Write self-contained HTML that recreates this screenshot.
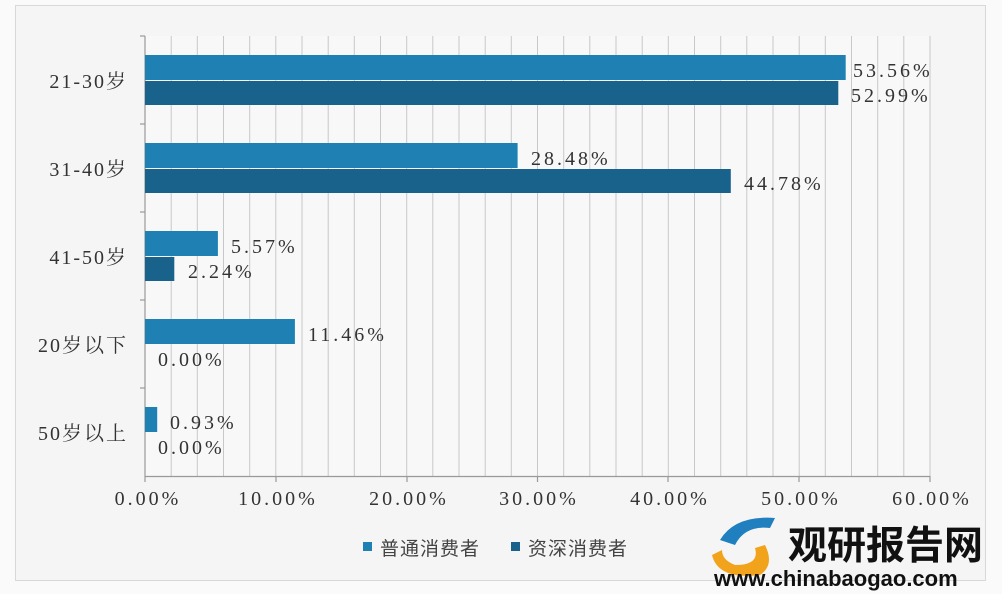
<!DOCTYPE html>
<html><head><meta charset="utf-8"><style>
body{margin:0;width:1002px;height:594px;background:#fff;overflow:hidden;font-family:"Liberation Serif","Noto Serif CJK SC",serif;}
</style></head><body>
<svg width="1002" height="594" xmlns="http://www.w3.org/2000/svg">
<rect x="0" y="0" width="1002" height="594" fill="#fafafa"/>
<rect x="15.5" y="5.5" width="970" height="575" fill="#f5f5f5" stroke="#d8d8d8"/>
<rect x="145" y="36" width="785" height="440" fill="#f8f8f8"/>
<g stroke="#c8c8c8" stroke-width="1">
<line x1="171.2" y1="36" x2="171.2" y2="476"/><line x1="197.3" y1="36" x2="197.3" y2="476"/><line x1="223.5" y1="36" x2="223.5" y2="476"/><line x1="249.7" y1="36" x2="249.7" y2="476"/><line x1="275.8" y1="36" x2="275.8" y2="476"/><line x1="302" y1="36" x2="302" y2="476"/><line x1="328.2" y1="36" x2="328.2" y2="476"/><line x1="354.3" y1="36" x2="354.3" y2="476"/><line x1="380.5" y1="36" x2="380.5" y2="476"/><line x1="406.7" y1="36" x2="406.7" y2="476"/><line x1="432.8" y1="36" x2="432.8" y2="476"/><line x1="459" y1="36" x2="459" y2="476"/><line x1="485.2" y1="36" x2="485.2" y2="476"/><line x1="511.3" y1="36" x2="511.3" y2="476"/><line x1="537.5" y1="36" x2="537.5" y2="476"/><line x1="563.7" y1="36" x2="563.7" y2="476"/><line x1="589.8" y1="36" x2="589.8" y2="476"/><line x1="616" y1="36" x2="616" y2="476"/><line x1="642.2" y1="36" x2="642.2" y2="476"/><line x1="668.3" y1="36" x2="668.3" y2="476"/><line x1="694.5" y1="36" x2="694.5" y2="476"/><line x1="720.7" y1="36" x2="720.7" y2="476"/><line x1="746.8" y1="36" x2="746.8" y2="476"/><line x1="773" y1="36" x2="773" y2="476"/><line x1="799.2" y1="36" x2="799.2" y2="476"/><line x1="825.3" y1="36" x2="825.3" y2="476"/><line x1="851.5" y1="36" x2="851.5" y2="476"/><line x1="877.7" y1="36" x2="877.7" y2="476"/><line x1="903.8" y1="36" x2="903.8" y2="476"/><line x1="930" y1="36" x2="930" y2="476"/>
</g>
<g stroke="#999" stroke-width="1.2">
<line x1="145" y1="36" x2="145" y2="476"/><line x1="145" y1="476.5" x2="930" y2="476.5"/>
<line x1="140" y1="36" x2="145" y2="36"/><line x1="140" y1="124" x2="145" y2="124"/><line x1="140" y1="212" x2="145" y2="212"/><line x1="140" y1="300" x2="145" y2="300"/><line x1="140" y1="388" x2="145" y2="388"/>
<line x1="145" y1="476" x2="145" y2="482"/><line x1="276" y1="476" x2="276" y2="482"/><line x1="407" y1="476" x2="407" y2="482"/><line x1="537.5" y1="476" x2="537.5" y2="482"/><line x1="668" y1="476" x2="668" y2="482"/><line x1="799" y1="476" x2="799" y2="482"/><line x1="930" y1="476" x2="930" y2="482"/>
</g>
<g fill="#1f80b4">
<rect x="145" y="55" width="700.7" height="25"/>
<rect x="145" y="143" width="372.6" height="25"/>
<rect x="145" y="231" width="72.9" height="25"/>
<rect x="145" y="319" width="149.9" height="25"/>
<rect x="145" y="407" width="12.2" height="25"/>
</g>
<g fill="#18628c">
<rect x="145" y="81" width="693.3" height="24"/>
<rect x="145" y="169" width="585.8" height="24"/>
<rect x="145" y="257" width="29.3" height="24"/>
</g>
<g font-size="20" fill="#333" letter-spacing="3">
<text x="853" y="77">53.56%</text><text x="851" y="102">52.99%</text>
<text x="531" y="165">28.48%</text><text x="744" y="190">44.78%</text>
<text x="231" y="253">5.57%</text><text x="188" y="278">2.24%</text>
<text x="308" y="341">11.46%</text><text x="158" y="366">0.00%</text>
<text x="170" y="429">0.93%</text><text x="158" y="454">0.00%</text>
</g>
<g font-size="20" fill="#333" text-anchor="end" letter-spacing="2" font-family="Liberation Serif,Noto Serif CJK SC,serif">
<text x="128" y="88">21-30岁</text><text x="128" y="176">31-40岁</text><text x="128" y="264">41-50岁</text><text x="128" y="352">20岁以下</text><text x="128" y="440">50岁以上</text>
</g>
<g font-size="20" fill="#333" text-anchor="middle" letter-spacing="3">
<text x="148" y="505">0.00%</text><text x="278" y="505">10.00%</text><text x="409" y="505">20.00%</text><text x="539" y="505">30.00%</text><text x="670" y="505">40.00%</text><text x="801" y="505">50.00%</text><text x="932" y="505">60.00%</text>
</g>
<rect x="363" y="542" width="9" height="9" fill="#1f80b4"/>
<text x="380" y="555" font-size="19" fill="#444" letter-spacing="1" font-family="Noto Sans CJK SC,sans-serif">普通消费者</text>
<rect x="511" y="542" width="9" height="9" fill="#18628c"/>
<text x="528" y="555" font-size="19" fill="#444" letter-spacing="1" font-family="Noto Sans CJK SC,sans-serif">资深消费者</text>
<path d="M720 540 Q735 515 775 518 L770 528 Q745 525 735 545 Z" fill="#1f7fbf"/>
<path d="M712 555 Q718 580 760 575 Q775 565 765 545 L755 548 Q760 565 735 565 Q722 560 722 550 Z" fill="#f2a31c"/>
<text x="788" y="559" font-size="39" font-weight="bold" fill="#111" font-family="Noto Sans CJK SC,sans-serif">观研报告网</text>
<text x="714" y="586" font-size="22" font-weight="bold" fill="#111" font-family="Liberation Sans,sans-serif">www.chinabaogao.com</text>
</svg>
</body></html>
